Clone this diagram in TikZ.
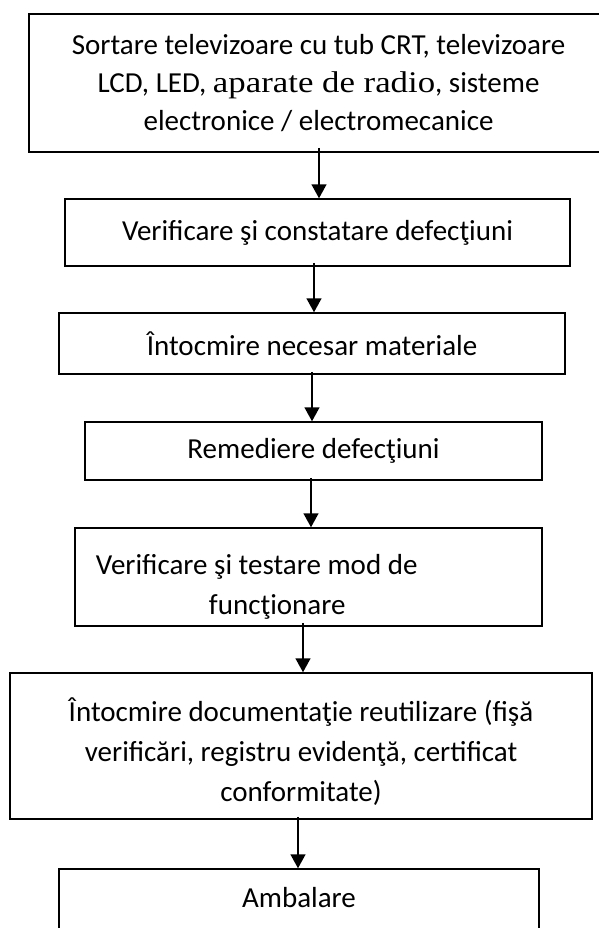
\documentclass[tikz,border=0pt]{standalone}
\usepackage{fontspec}
\setmainfont{Carlito}
% wider serif face for the mixed-font words in the first step
\newfontfamily\serifpart[FakeStretch=1.16]{Liberation Serif}
\usetikzlibrary{arrows.meta}
\begin{document}
\begin{tikzpicture}[x=1bp,y=-1bp,
  stepbox/.style={draw, line width=1.5bp, inner sep=0pt, align=center,
    font=\fontsize{29bp}{40bp}\selectfont,
    % centred lines with the font's own word spacing
    execute at begin node={\leftskip=0pt plus 1fil\rightskip=0pt plus 1fil
      \parfillskip=0pt\spaceskip=0pt\xspaceskip=0pt\relax}},
  leftbox/.style={stepbox,
    execute at begin node={\leftskip=0pt\rightskip=0pt plus 1fil
      \parfillskip=0pt\spaceskip=0pt\xspaceskip=0pt\relax}},
  flow/.style={line width=1.5bp, -{Triangle[width=15bp,length=14bp]}}]
\useasboundingbox (0,0) rectangle (599,928);

% process steps
\node[stepbox, minimum width=579bp, text width=579bp, minimum height=138bp,
      font=\fontsize{29bp}{38bp}\selectfont] (b1) at (318.5,83)
  {Sortare televizoare cu tub CRT, televizoare\\
   LCD, LED, {\serifpart\fontsize{30bp}{38bp}\selectfont aparate de radio}, sisteme\\
   electronice / electromecanice};
\node[stepbox, minimum width=505bp, text width=505bp, minimum height=67bp] (b2) at (317.5,232.5)
  {Verificare şi constatare defecţiuni};
\node[stepbox, minimum width=506bp, text width=506bp, minimum height=61bp] (b3) at (312,343.5)
  {Întocmire necesar materiale};
\node[stepbox, minimum width=457bp, text width=457bp, minimum height=58bp] (b4) at (313.5,451)
  {Remediere defecţiuni};
\node[leftbox, minimum width=467bp, text width=467bp, minimum height=98bp] (b5) at (308.5,577)
  {\rule{0pt}{40bp}\hspace*{21bp}Verificare şi testare mod de\\ \hspace*{134bp}funcţionare};
\node[stepbox, minimum width=582bp, text width=582bp, minimum height=146bp] (b6) at (301,746)
  {\rule{0pt}{36bp}Întocmire documentaţie reutilizare (fişă\\ verificări, registru evidenţă, certificat\\ conformitate)};
\node[stepbox, minimum width=480bp, text width=480bp, minimum height=76bp, text depth=20bp] (b7) at (299,907)
  {Ambalare};

% connectors
\draw[flow] ([yshift=5bp]b1.south -| 319,0) -- (b2.north -| 319,0);
\draw[flow] ([yshift=4bp]b2.south -| 314,0) -- (b3.north -| 314,0);
\draw[flow] ([yshift=3bp]b3.south -| 312,0) -- (b4.north -| 312,0);
\draw[flow] ([yshift=3bp]b4.south -| 311,0) -- (b5.north -| 311,0);
\draw[flow] ([yshift=4bp]b5.south -| 303,0) -- (b6.north -| 303,0);
\draw[flow] ([yshift=3bp]b6.south -| 298,0) -- (b7.north -| 298,0);
\end{tikzpicture}
\end{document}
